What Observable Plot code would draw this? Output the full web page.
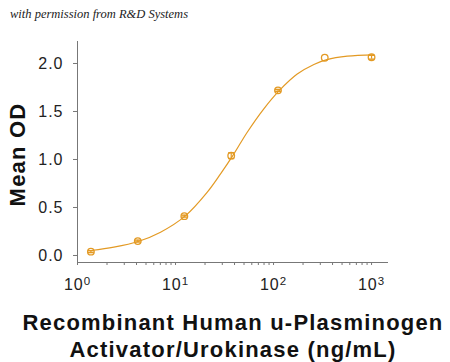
<!DOCTYPE html>
<html><head><meta charset="utf-8">
<script src="https://cdn.jsdelivr.net/npm/d3@7"></script>
<script src="https://cdn.jsdelivr.net/npm/@observablehq/plot@0.6"></script>
<style>
body{margin:0;background:#fff;}
#wrap{position:relative;width:450px;height:362px;overflow:hidden;}
#perm{position:absolute;left:10px;top:7px;font:italic 12.5px "Liberation Serif","DejaVu Serif",serif;color:#222;white-space:nowrap;z-index:2;}
#wrap svg{position:absolute;left:0;top:0;}
svg text{letter-spacing:1px;}
</style></head><body>
<div id="wrap"><div id="perm">with permission from R&amp;D Systems</div></div>
<script>
// Measured points (ng/mL, mean OD)
const concentration = [1.37, 4.12, 12.3, 37.0, 111, 333, 1000];
const meanOD = [0.04, 0.15, 0.41, 1.04, 1.72, 2.06, 2.065];
const odError = [0.01, 0.01, 0.01, 0.03, 0.01, 0, 0.02];
// Fitted curve
const fitConc = [1.38, 2.35, 4.16, 7.03, 12.6, 21.1, 28.8, 38.4, 53.9, 79.6, 115, 174.5, 258, 350, 565, 1050];
const fitOD = [0.052, 0.087, 0.146, 0.243, 0.413, 0.66, 0.85, 1.04, 1.284, 1.528, 1.72, 1.89, 1.99, 2.04, 2.076, 2.09];
// Ticks and labels
const yTicks = [0, 0.5, 1.0, 1.5, 2.0];
const xMajorTicks = [1, 10, 100, 1000];
const xMinorMultiples = [1, 2, 3, 4, 5, 6, 7, 8, 9];
const xLabel = "Recombinant Human u-Plasminogen\nActivator/Urokinase (ng/mL)";
const yLabel = "Mean OD";

const orange = "#E39A24";
const points = concentration.map((c, i) => ({x: c, y: meanOD[i], e: odError[i]}));
const fit = fitConc.map((c, i) => ({x: c, y: fitOD[i]}));
const errPts = points.filter(d => d.e > 0);
const caps = errPts.flatMap(d => [{x: d.x, y: d.y - d.e}, {x: d.x, y: d.y + d.e}]);
const xTickValues = [];
for (const k of [1, 10, 100]) for (const m of xMinorMultiples) xTickValues.push(m * k);
xTickValues.push(1000);

const capSymbol = {draw(ctx, size) { const r = Math.sqrt(size / Math.PI); ctx.moveTo(-r, 0); ctx.lineTo(r, 0); }};
const yMin = -0.073, yMax = 2.229;

const chart = Plot.plot({
  width: 450, height: 362,
  marginLeft: 77, marginRight: 62, marginTop: 41, marginBottom: 100,
  style: {fontFamily: '"Liberation Sans", Arial, sans-serif', background: "transparent", color: "#222"},
  x: {type: "log", domain: [1, 1489]},
  y: {domain: [yMin, yMax]},
  marks: [
    Plot.ruleX([1], {stroke: "#777"}),
    Plot.ruleY([yMin], {stroke: "#777"}),
    Plot.axisY(yTicks, {tickFormat: d => d.toFixed(1), tickSize: 4, tickPadding: 10, fontSize: 16, stroke: "#777", fill: "#222", label: null}),
    Plot.axisX(xTickValues, {tickFormat: d => xMajorTicks.includes(d) ? "10^" + Math.round(Math.log10(d)) : "", tickSize: 3, tickPadding: 13, fontSize: 16, stroke: "#777", fill: "#222", label: null}),
    Plot.line(fit, {x: "x", y: "y", curve: "catmull-rom", stroke: orange, strokeWidth: 1.2}),
    Plot.ruleX(errPts, {x: "x", y1: d => d.y - d.e, y2: d => d.y + d.e, stroke: orange, strokeWidth: 1.2}),
    Plot.dot(caps, {x: "x", y: "y", r: 3, symbol: capSymbol, stroke: orange, strokeWidth: 1.4}),
    Plot.dot(points, {x: "x", y: "y", r: 3.3, stroke: orange, fill: "none", strokeWidth: 1.3}),
    Plot.text([xLabel], {text: d => d, frameAnchor: "bottom", lineAnchor: "top", dy: 49, fontSize: 22, fontWeight: "bold", lineHeight: 1.2, fill: "#111"}),
    Plot.text([yLabel], {text: d => d, frameAnchor: "left", textAnchor: "middle", rotate: -90, dx: -60, dy: 2.5, fontSize: 22, fontWeight: "bold", fill: "#111"})
  ]
});

chart.querySelectorAll('g[aria-label="x-axis tick label"] text').forEach(t => {
  const m = t.textContent.match(/^10\^(\d)$/);
  if (m) {
    t.textContent = "10";
    const ts = document.createElementNS("http://www.w3.org/2000/svg", "tspan");
    ts.setAttribute("dy", "-0.45em");
    ts.setAttribute("font-size", "0.72em");
    ts.textContent = m[1];
    t.appendChild(ts);
  }
});
const texts = [...chart.querySelectorAll("text")];
const yt = texts.find(t => t.textContent === yLabel);
const xt = texts.find(t => t.textContent.startsWith("Recombinant"));
if (yt) yt.style.letterSpacing = "1.2px";
if (xt) xt.style.letterSpacing = "1.2px";
document.getElementById("wrap").appendChild(chart);
</script>
</body></html>
